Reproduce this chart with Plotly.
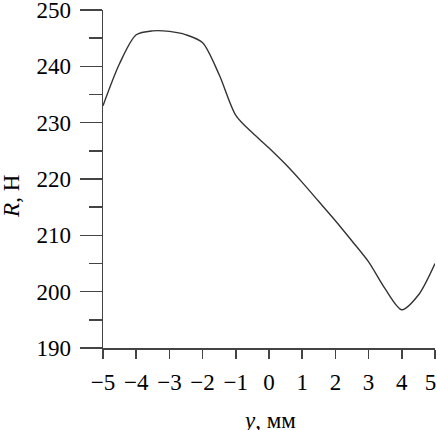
import plotly.graph_objects as go

y_mm = [-5, -4.5, -4, -3.5, -3, -2.5, -2, -1.5, -1, -0.5, 0, 0.5, 1, 1.5, 2, 2.5, 3, 3.5, 4, 4.5, 5]
R_N = [233.0, 240.5, 245.6, 246.3, 246.2, 245.6, 244.2, 238.5, 231.3, 228.2, 225.5, 222.6, 219.4, 216.0, 212.6, 209.0, 205.3, 200.5, 196.8, 199.4, 205.0]

x_ticks = list(range(-5, 6))
x_labels = ["\u22125", "\u22124", "\u22123", "\u22122", "\u22121", "0", "1", "2", "3", "4", "5\u2009\u2009"]
y_ticks = list(range(190, 251, 10))
y_minor = [195, 205, 215, 225, 235, 245]

FONT = "Liberation Serif"
AX = "#444444"

# figure is a little larger than the window; the page is shifted up so that
# edge tick labels (250 and 5) are not dropped by plotly
EXTRA_TOP = 20
EXTRA_RIGHT = 25

fig = go.Figure()
fig.add_trace(go.Scatter(x=y_mm, y=R_N, mode="lines",
                         line=dict(color="#333333", width=1.4, shape="spline", smoothing=0.8),
                         showlegend=False, hoverinfo="skip"))

fig.update_layout(
    width=437 + EXTRA_RIGHT, height=430 + EXTRA_TOP,
    margin=dict(l=103, r=2 + EXTRA_RIGHT, t=10 + EXTRA_TOP, b=82),
    paper_bgcolor="white", plot_bgcolor="white",
    font=dict(family=FONT, size=23, color="#000000"),
    xaxis=dict(range=[-5, 5], tickvals=x_ticks, ticktext=x_labels, ticks="outside", ticklen=9,
               tickwidth=1.5, tickcolor=AX, showline=True, linecolor=AX, linewidth=1.5,
               showgrid=False, zeroline=False, ticklabelstandoff=4),
    yaxis=dict(range=[190, 250], tickvals=y_ticks, ticks="outside", ticklen=22, tickwidth=1.5,
               tickcolor=AX, showline=True, linecolor=AX, linewidth=1.5, showgrid=False,
               zeroline=False, ticklabelstandoff=4,
               minor=dict(tickvals=y_minor, ticks="outside", ticklen=13,
                          tickwidth=1.5, tickcolor=AX, showgrid=False)),
)

fig.add_annotation(text="<i>y</i>, мм", xref="paper", yref="paper", x=0.5, y=0,
                   yshift=-72, xanchor="center", yanchor="middle", showarrow=False,
                   font=dict(family=FONT, size=23))
fig.add_annotation(text="<i>R</i>, Н", xref="paper", yref="paper", x=0, y=0.447,
                   xshift=-91, xanchor="center", yanchor="middle", textangle=-90, showarrow=False,
                   font=dict(family=FONT, size=23))

fig.write_html(
    "out.html",
    config={"displayModeBar": False, "staticPlot": True},
    post_script=("document.body.style.margin='0';document.body.style.overflow='hidden';"
                 "document.body.style.marginTop='-%dpx';" % EXTRA_TOP),
)
